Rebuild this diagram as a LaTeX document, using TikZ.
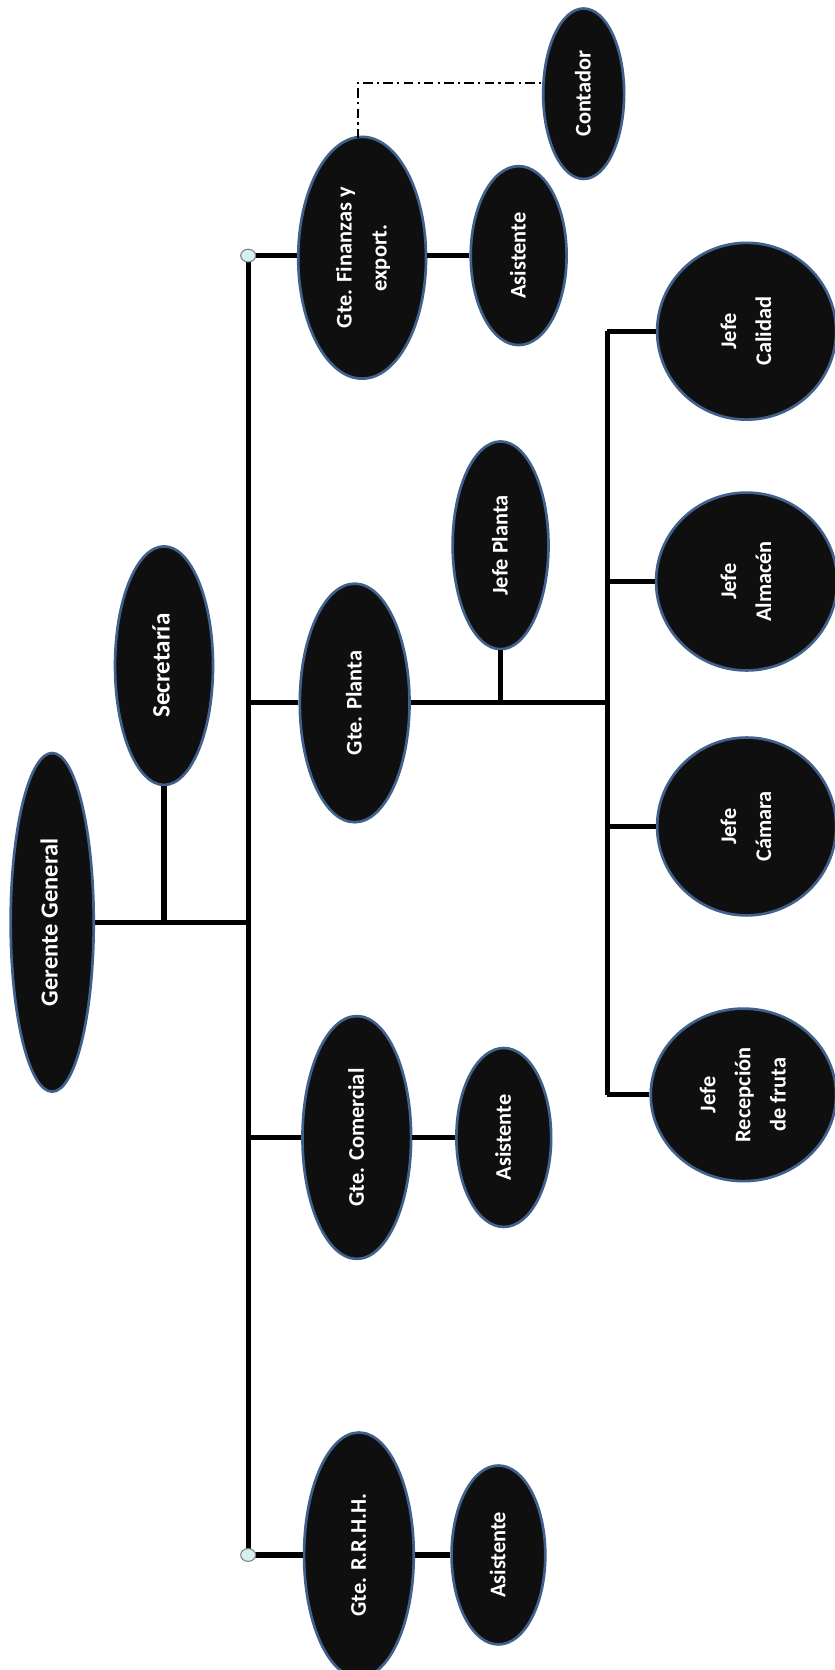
\documentclass[tikz,border=0pt]{standalone}
\usepackage{fontspec}
\setmainfont{Carlito}
\usetikzlibrary{shapes.geometric}
\definecolor{nodefill}{HTML}{0F0F0F}
\definecolor{nodeborder}{HTML}{3F618C}
\definecolor{dotfill}{HTML}{D6F0F2}
\newcommand{\rt}[1]{\rotatebox{90}{\begin{tabular}{@{}c@{}}#1\end{tabular}}}
\tikzset{
  org/.style={ellipse, fill=nodefill, draw=nodeborder, line width=2.5pt, inner sep=0pt, text=white,
    font=\bfseries\fontsize{21}{33}\selectfont},
  conn/.style={line width=4.8pt, black},
  junction/.style={ellipse, fill=dotfill, draw=gray, line width=1pt, minimum width=14pt, minimum height=12pt, inner sep=0pt},
}
\begin{document}
\begin{tikzpicture}[x=1pt,y=-1pt]
\useasboundingbox (0,0) rectangle (784,1568);
\clip (0,0) rectangle (784,1568);
% nodes
\node[org, font=\bfseries\fontsize{23}{26}\selectfont, minimum width=78pt, minimum height=318pt] (gg) at (49,866) {\rt{Gerente General}};
\node[org, font=\bfseries\fontsize{23.5}{26}\selectfont, minimum width=92pt, minimum height=224pt] (sec) at (154,625) {\rt{Secretaría}};
\node[org, minimum width=120pt, minimum height=227pt] (fin) at (340,242) {\rt{Gte. Finanzas y\\ export.}};
\node[org, minimum width=90pt, minimum height=168pt] (afin) at (487,240) {\rt{Asistente}};
\node[org, minimum width=76pt, minimum height=160pt] (cont) at (548,88) {\rt{Contador}};
\node[org, minimum width=103pt, minimum height=224pt] (pla) at (333,660) {\rt{Gte. Planta}};
\node[org, minimum width=90pt, minimum height=195pt] (jpla) at (470,512) {\rt{Jefe Planta}};
\node[org, minimum width=168pt, minimum height=166pt] (jcal) at (701,311) {\rt{Jefe\\ Calidad}};
\node[org, minimum width=170pt, minimum height=167pt] (jalm) at (701,546) {\rt{Jefe\\ Almacén}};
\node[org, minimum width=168pt, minimum height=167pt] (jcam) at (701,776) {\rt{Jefe\\ Cámara}};
\node[org, minimum width=174pt, minimum height=162pt] (jrec) at (698,1028) {\rt{Jefe\\ Recepción\\ de fruta}};
\node[org, minimum width=102pt, minimum height=228pt] (com) at (335,1068) {\rt{Gte. Comercial}};
\node[org, minimum width=89pt, minimum height=168pt] (acom) at (473,1068) {\rt{Asistente}};
\node[org, minimum width=103pt, minimum height=230pt] (rh) at (337,1460) {\rt{Gte. R.R.H.H.}};
\node[org, minimum width=88pt, minimum height=168pt] (arh) at (468,1460) {\rt{Asistente}};

% bus coordinates
\coordinate (bt) at (233,240);
\coordinate (bb) at (233,1460);
\coordinate (ggj) at (gg.east -| bt);
\coordinate (secj) at (sec.south |- ggj);
\coordinate (pj) at (570,660);
\coordinate (jpj) at (jpla.south |- pj);
\coordinate (pt) at (570,311);
\coordinate (pb) at (570,1028);
\coordinate (cj) at (336,78);
\coordinate (cjb) at (336,130);

% connectors
\begin{scope}[on background layer/.style={}]
\end{scope}
\draw[conn] (gg.east) -- (ggj);
\draw[conn] (sec.south) -- (secj);
\draw[conn] (bt) -- (bb);
\draw[conn] (bt) -- (fin.west |- bt);
\draw[conn] (pla.west -| bt) -- (pla.west);
\draw[conn] (com.west -| bt) -- (com.west);
\draw[conn] (bb) -- (rh.west);
\draw[conn] (fin.east |- afin.west) -- (afin.west);
\draw[conn] (com.east) -- (acom.west);
\draw[conn] (rh.east) -- (arh.west);
\draw[conn] (pla.east) -- (pj);
\draw[conn] (jpla.south) -- (jpj);
\draw[conn] (pt) -- (pb);
\draw[conn] (pt) -- (jcal.west);
\draw[conn] (jalm.west -| pt) -- (jalm.west);
\draw[conn] (jcam.west -| pt) -- (jcam.west);
\draw[conn] (pb) -- (jrec.west);
\draw[line width=1.3pt, dash pattern=on 9pt off 4pt on 2pt off 4pt] (cjb) -- (cj) -- (cont.west |- cj);
\node[junction] (jt) at (bt) {};
\node[junction] (jb) at (bb) {};
\end{tikzpicture}
\end{document}
